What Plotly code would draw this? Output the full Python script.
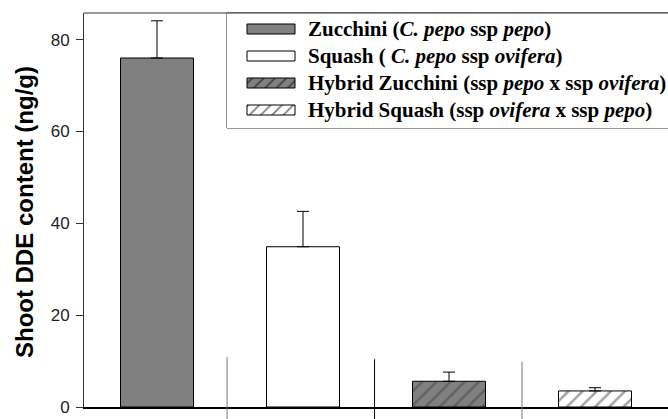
import plotly.graph_objects as go

# ---- data ----
categories = ["Zucchini", "Squash", "Hybrid Zucchini", "Hybrid Squash"]
dde_mean = [76.0, 34.9, 5.6, 3.5]
dde_se = [8.1, 7.7, 2.0, 0.7]
fill_colors = ["#808080", "#ffffff", "#808080", "#ffffff"]
hatch = ["", "", "/", "/"]
legend_labels = [
    "Zucchini (<i>C. pepo</i> ssp <i>pepo</i>)",
    "Squash ( <i>C. pepo</i> ssp <i>ovifera</i>)",
    "Hybrid Zucchini (ssp <i>pepo</i> x ssp <i>ovifera</i>)",
    "Hybrid Squash (ssp <i>ovifera</i> x ssp <i>pepo</i>)",
]
y_ticks = [0, 20, 40, 60, 80]
y_title = "Shoot DDE content (ng/g)"

Y_MAX = 85.8
W, H = 668, 419
ML, MR, MT, MB = 84, 0, 13, 12
PW, PH = W - ML - MR, H - MT - MB

fig = go.Figure()

xs = list(range(len(categories)))
fig.add_trace(go.Bar(
    x=xs, y=dde_mean, width=0.5,
    marker=dict(color=fill_colors, line=dict(color="#000000", width=1),
                pattern=dict(shape=hatch, fgcolor="#000000", size=10, solidity=0.25,
                             bgcolor=fill_colors, fillmode="overlay")),
    error_y=dict(type="data", array=dde_se, arrayminus=[0] * len(dde_se),
                 symmetric=False, color="#000000", thickness=1, width=6),
    showlegend=False, hoverinfo="skip",
))

# ---- custom legend in a pixel-like overlay axis ----
leg_x0_px, leg_y1_px = 227, 128   # legend box left edge, bottom edge (pixels)
leg_w = W - leg_x0_px
leg_h = leg_y1_px - MT
row_y = [16, 43, 70, 97]  # offsets from legend top
key_x0, key_x1, key_h = 20, 68, 10
for lab, col, pat, ry in zip(legend_labels, fill_colors, hatch, row_y):
    fig.add_trace(go.Scatter(
        x=[key_x0, key_x1, key_x1, key_x0, key_x0],
        y=[ry - key_h / 2, ry - key_h / 2, ry + key_h / 2, ry + key_h / 2, ry - key_h / 2],
        mode="lines", fill="toself", fillcolor=col,
        fillpattern=dict(shape=pat, fgcolor="#000000", bgcolor=col, size=8, solidity=0.22),
        line=dict(color="#000000", width=1),
        xaxis="x2", yaxis="y2", showlegend=False, hoverinfo="skip",
    ))
    fig.add_annotation(
        x=79, y=ry, xref="x2", yref="y2", text="<b>" + lab + "</b>",
        showarrow=False, xanchor="left", yanchor="middle",
        font=dict(family="Liberation Serif, Times New Roman, serif", size=21, color="#000000"),
    )

# legend box
fig.add_shape(type="rect", xref="paper", yref="paper",
              x0=(leg_x0_px - ML) / PW, x1=1.0,
              y0=(H - MB - leg_y1_px) / PH, y1=1.0,
              line=dict(color="#333333", width=1), fillcolor="white", layer="below")

# top frame line
fig.add_shape(type="line", xref="paper", yref="paper", x0=0, x1=1, y0=1, y1=1,
              line=dict(color="#333333", width=1))

# category separators (long tick marks)
sep_x = [0.48, 1.49, 2.5]
sep_top = [10.9, 10.4, 9.9]
sep_col = ["#777777", "#000000", "#777777"]
for sx, st, sc in zip(sep_x, sep_top, sep_col):
    fig.add_shape(type="line", xref="x", yref="paper", x0=sx, x1=sx,
                  y0=-0.08, y1=st / Y_MAX, line=dict(color=sc, width=1))

# y-axis title
fig.add_annotation(x=(25 - ML) / PW, y=0.495, xref="paper", yref="paper",
                   xanchor="center", yanchor="middle",
                   text="<b>" + y_title + "</b>", textangle=-90, showarrow=False,
                   font=dict(family="Liberation Sans, Arial, sans-serif", size=24, color="#000000"))

fig.update_layout(
    width=W, height=H,
    margin=dict(l=ML, r=MR, t=MT, b=MB, pad=0),
    paper_bgcolor="white", plot_bgcolor="white",
    bargap=0.5,
    xaxis=dict(range=[-0.5, 3.5], showticklabels=False, ticks="", showgrid=False,
               zeroline=False, showline=True, linecolor="#000000", linewidth=2),
    yaxis=dict(range=[0, Y_MAX], tickvals=y_ticks, ticks="outside", ticklen=7,
               tickcolor="#333333", showgrid=False, zeroline=False, showline=True,
               linecolor="#333333", linewidth=1, ticklabelstandoff=3,
               tickfont=dict(family="Liberation Sans, Arial, sans-serif", size=17, color="#222222")),
    xaxis2=dict(domain=[(leg_x0_px - ML) / PW, 1.0], range=[0, leg_w], visible=False,
                anchor="y2", fixedrange=True),
    yaxis2=dict(domain=[(H - MB - leg_y1_px) / PH, 1.0], range=[leg_h, 0], visible=False,
                anchor="x2", fixedrange=True),
)

fig.write_html("out.html", config={"displayModeBar": False},
               post_script="document.body.style.margin='0';document.body.style.overflow='hidden';")
